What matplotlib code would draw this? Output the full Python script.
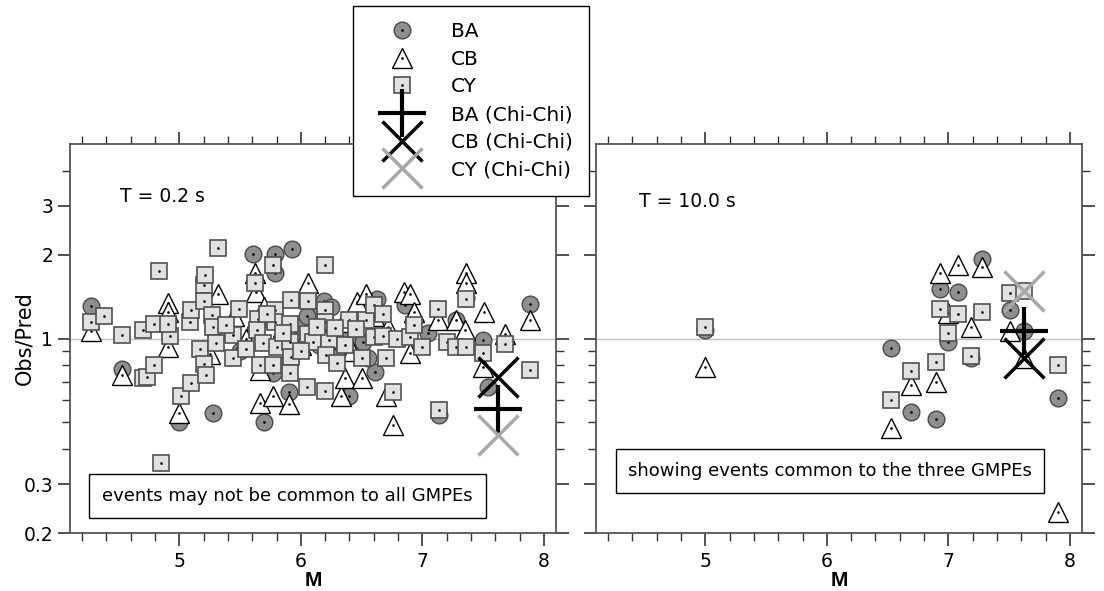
import matplotlib
matplotlib.use("Agg")
import matplotlib.pyplot as plt
from matplotlib.lines import Line2D
from matplotlib.patches import Rectangle
from matplotlib.ticker import FixedLocator, NullFormatter
import numpy as np

plt.rcParams['font.family'] = ['DejaVu Sans']

# ---- T = 0.2 s (left) ----
ba_m_02 = [4.27, 4.53, 5.00, 5.28, 5.61, 5.70, 5.77, 5.79, 5.79, 5.90, 5.93, 6.19, 6.40,
           6.61, 6.63, 6.86, 7.14, 7.28, 7.36, 7.50, 7.54, 7.89, 5.62, 5.75, 6.00, 6.15,
           6.30, 6.45, 6.55, 5.50, 6.10, 6.51, 6.05, 5.85, 6.25, 7.05, 5.40, 5.95, 6.35]
ba_v_02 = [1.31, 0.78, 0.50, 0.54, 2.02, 0.50, 0.75, 2.02, 1.72, 0.64, 2.09, 1.36, 0.62,
           0.76, 1.39, 1.32, 0.53, 1.17, 1.40, 0.99, 0.67, 1.33, 1.07, 1.20, 1.10, 0.95,
           0.90, 1.00, 0.85, 0.90, 1.25, 0.97, 1.20, 0.80, 1.30, 1.05, 1.12, 0.92, 1.08]

cb_m_02 = [4.27, 4.53, 4.91, 4.91, 4.91, 5.00, 5.32, 5.62, 5.63, 5.66, 5.66, 5.77, 5.90,
           6.06, 6.33, 6.36, 6.46, 6.50, 6.54, 6.70, 6.76, 6.85, 6.90, 6.93, 6.90, 7.13,
           7.28, 7.35, 7.36, 7.36, 7.51, 7.50, 7.68, 7.89, 5.45, 5.55, 5.85, 6.00, 6.20,
           6.35, 6.60, 6.72, 5.25, 6.12, 5.70, 6.42]
cb_v_02 = [1.06, 0.74, 1.34, 1.25, 0.93, 0.54, 1.45, 1.72, 1.47, 0.77, 0.585, 0.62, 0.58,
           1.58, 0.62, 0.72, 1.35, 0.72, 1.45, 0.62, 0.49, 1.47, 1.45, 1.25, 0.885, 1.17,
           1.17, 1.07, 1.72, 1.58, 1.25, 0.79, 1.04, 1.17, 1.20, 1.00, 1.10, 0.95, 1.00,
           1.15, 1.20, 1.10, 0.88, 1.05, 1.30, 0.90]

cy_m_02 = [4.27, 4.38, 4.53, 4.70, 4.70, 4.73, 4.79, 4.79, 4.83, 4.85, 4.92, 4.91, 5.01,
           5.09, 5.10, 5.10, 5.17, 5.20, 5.21, 5.20, 5.20, 5.22, 5.27, 5.28, 5.30, 5.32,
           5.44, 5.44, 5.49, 5.62, 5.65, 5.64, 5.66, 5.69, 5.77, 5.79, 5.79, 5.77, 5.80,
           5.92, 5.91, 5.91, 5.92, 5.91, 6.06, 6.06, 6.10, 6.05, 6.20, 6.20, 6.20, 6.23,
           6.21, 6.20, 6.30, 6.36, 6.40, 6.50, 6.54, 6.60, 6.60, 6.68, 6.68, 6.70, 6.76,
           6.79, 6.90, 6.93, 7.00, 7.13, 7.14, 7.20, 7.28, 7.36, 7.36, 7.50, 7.68, 7.89,
           5.55, 5.38, 5.85, 6.00, 6.13, 6.45, 5.72, 6.28]
cy_v_02 = [1.15, 1.20, 1.03, 1.07, 0.72, 0.73, 1.13, 0.80, 1.75, 0.356, 1.02, 1.13, 0.62,
           1.15, 1.27, 0.69, 0.915, 1.56, 1.69, 1.36, 0.81, 0.74, 1.21, 1.10, 0.96, 2.11,
           1.03, 0.85, 1.28, 1.58, 1.18, 1.07, 0.80, 0.96, 1.84, 1.27, 1.15, 0.80, 0.93,
           1.38, 1.13, 0.97, 0.86, 0.75, 1.36, 1.04, 0.97, 0.67, 1.83, 1.27, 1.15, 0.99,
           0.87, 0.65, 0.815, 0.95, 1.17, 0.85, 1.17, 1.32, 1.015, 1.23, 1.02, 0.85, 0.64,
           1.00, 1.015, 1.12, 0.93, 1.28, 0.553, 0.97, 0.93, 0.93, 1.39, 0.89, 0.955, 0.77,
           0.92, 1.12, 1.05, 0.90, 1.10, 1.08, 1.22, 1.09]

chichi_m_02 = 7.62
chichi_ba_02, chichi_cb_02, chichi_cy_02 = 0.557, 0.73, 0.45

# ---- T = 10.0 s (right), events common to the three GMPEs ----
m_10 = [5.00, 6.53, 6.69, 6.90, 6.93, 7.00, 7.08, 7.19, 7.28, 7.51, 7.62, 7.90]
ba_v_10 = [1.07, 0.927, 0.546, 0.514, 1.51, 0.974, 1.465, 0.849, 1.93, 1.27, 1.067, 0.61]
cb_v_10 = [0.79, 0.476, 0.68, 0.70, 1.715, 1.24, 1.83, 1.10, 1.81, 1.067, 0.85, 0.238]
cy_v_10 = [1.10, 0.60, 0.764, 0.825, 1.276, 1.044, 1.22, 0.865, 1.248, 1.453, 1.485, 0.803]

chichi_m_10 = 7.62
chichi_ba_10, chichi_cb_10, chichi_cy_10 = 1.067, 0.85, 1.485

ba_style = dict(marker='o', ms=12, mfc='#8f8f8f', mec='#4a4a4a', mew=1.0, ls='none')
cb_style = dict(marker='^', ms=14, mfc='white', mec='black', mew=1.0, ls='none')
cy_style = dict(marker='s', ms=11.5, mfc='#e1e1e1', mec='#505050', mew=1.2, ls='none')
dot_style = dict(marker='.', ms=1.8, color='black', ls='none')
plus_style = dict(marker='+', ms=35, mew=3, color='black', ls='none')
xb_style = dict(marker='x', ms=29, mew=2.5, color='black', ls='none')
xg_style = dict(marker='x', ms=29, mew=2.5, color='#a8a8a8', ls='none')

fig = plt.figure(figsize=(11.04, 5.91), dpi=100)
ax1 = fig.add_axes([0.0634, 0.0981, 0.4402, 0.6582])
ax2 = fig.add_axes([0.5399, 0.0981, 0.4402, 0.6582])


def draw_series(ax, ba_m, ba_v, cb_m, cb_v, cy_m, cy_v):
    ax.axhline(1.0, color='#bdbdbd', lw=1.0, zorder=1)
    for m, v, st in [(ba_m, ba_v, ba_style), (cb_m, cb_v, cb_style), (cy_m, cy_v, cy_style)]:
        for mi, vi in zip(m, v):
            ax.plot([mi], [vi], zorder=3, **st)
            ax.plot([mi], [vi], zorder=3, **dot_style)


def draw_chichi(ax, m, ba, cb, cy):
    ax.plot([m], [ba], zorder=5, **plus_style)
    ax.plot([m], [cb], zorder=5, **xb_style)
    ax.plot([m], [cy], zorder=5, **xg_style)


draw_series(ax1, ba_m_02, ba_v_02, cb_m_02, cb_v_02, cy_m_02, cy_v_02)
draw_chichi(ax1, chichi_m_02, chichi_ba_02, chichi_cb_02, chichi_cy_02)
draw_series(ax2, m_10, ba_v_10, m_10, cb_v_10, m_10, cy_v_10)
draw_chichi(ax2, chichi_m_10, chichi_ba_10, chichi_cb_10, chichi_cy_10)

for ax in (ax1, ax2):
    ax.set_yscale('log')
    ax.set_xlim(4.1, 8.1)
    ax.set_ylim(0.2, 5)
    ax.xaxis.set_major_locator(FixedLocator([5, 6, 7, 8]))
    ax.xaxis.set_minor_locator(FixedLocator(np.arange(4.2, 8.05, 0.2)))
    ax.yaxis.set_major_locator(FixedLocator([0.2, 0.3, 1, 2, 3]))
    ax.yaxis.set_minor_locator(FixedLocator([0.4, 0.5, 0.6, 0.7, 0.8, 0.9, 4]))
    ax.yaxis.set_minor_formatter(NullFormatter())
    ax.tick_params(which='both', direction='out', top=True, right=True,
                   color='#333333', labelsize=13.5)
    ax.tick_params(which='major', length=9, width=1.2)
    ax.tick_params(which='minor', length=5.5, width=1.0)
    ax.tick_params(axis='x', which='major', pad=5)
    ax.tick_params(axis='y', which='major', pad=3)
    for s in ax.spines.values():
        s.set_color('#555555')
        s.set_linewidth(1.3)
    ax.set_xlabel('M', fontsize=15, fontweight='bold', labelpad=0,
                  family='Liberation Sans')
    ax.set_xticklabels(['5', '6', '7', '8'])

ax1.set_yticklabels(['0.2', '0.3', '1', '2', '3'])
ax1.set_ylabel('Obs/Pred', fontsize=15)
ax1.yaxis.set_label_coords(-0.074, 0.5)
ax2.tick_params(which='both', labelleft=False)

ax1.text(0.103, 0.864, 'T = 0.2 s', transform=ax1.transAxes, fontsize=13.5,
         ha='left', va='center')
ax2.text(0.088, 0.851, 'T = 10.0 s', transform=ax2.transAxes, fontsize=13.5,
         ha='left', va='center')

ax1.add_patch(Rectangle((0.039, 0.0386), 0.817, 0.1134, transform=ax1.transAxes,
                        facecolor='white', edgecolor='black', lw=1.0, zorder=6))
ax1.text(0.4475, 0.095, 'events may not be common to all GMPEs', transform=ax1.transAxes,
         fontsize=13, ha='center', va='center', zorder=7)
ax2.add_patch(Rectangle((0.041, 0.103), 0.881, 0.113, transform=ax2.transAxes,
                        facecolor='white', edgecolor='black', lw=1.0, zorder=6))
ax2.text(0.4815, 0.1594, 'showing events common to the three GMPEs', transform=ax2.transAxes,
         fontsize=13, ha='center', va='center', zorder=7)

dot = Line2D([], [], **dot_style)
handles = [
    (Line2D([], [], **ba_style), dot),
    (Line2D([], [], **cb_style), dot),
    (Line2D([], [], **cy_style), dot),
    Line2D([], [], **plus_style),
    Line2D([], [], **xb_style),
    Line2D([], [], **xg_style),
]
labels = ['BA', 'CB', 'CY', 'BA (Chi-Chi)', 'CB (Chi-Chi)', 'CY (Chi-Chi)']
leg = fig.legend(handles, labels, loc='upper left', bbox_to_anchor=(0.3197, 0.9898),
                 borderaxespad=0, fontsize=14.5, labelspacing=0.43, handlelength=3.26,
                 handletextpad=0.81, borderpad=0.8, fancybox=False, framealpha=1,
                 edgecolor='black')
leg.get_frame().set_linewidth(1.0)

fig.savefig('out.png', dpi=100)
